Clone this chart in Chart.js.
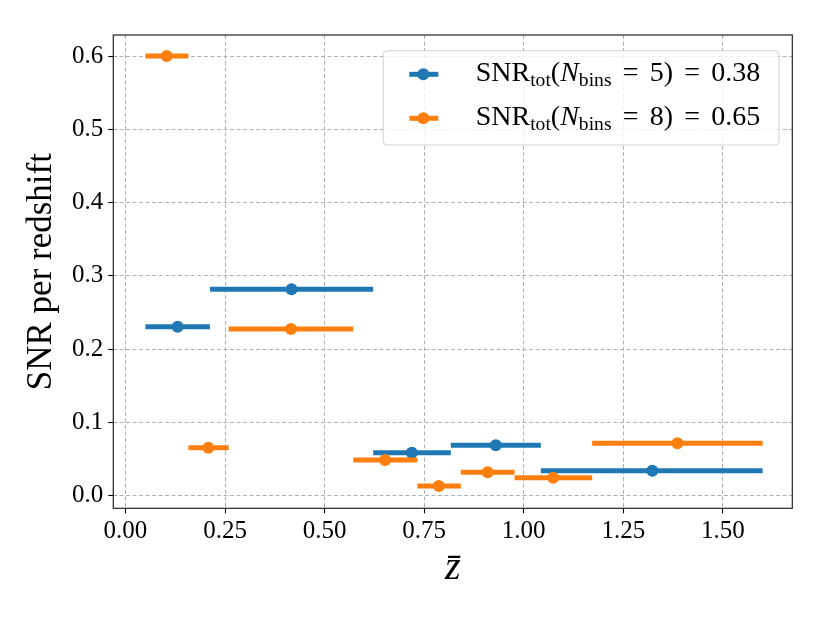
<!DOCTYPE html>
<html>
<head>
<meta charset="utf-8">
<script src="https://cdn.jsdelivr.net/npm/chart.js@4.4.1/dist/chart.umd.min.js"></script>
<style>
    html, body { margin: 0; padding: 0; background: #fff; }
    #wrap { width: 830px; height: 623px; }
</style>
</head>
<body>
<div id="wrap"><canvas id="snrChart" width="830" height="623"></canvas></div>
<script>
// N_bins = 5 (blue)
const blueEdges = [0.05, 0.212, 0.622, 0.817, 1.043, 1.60];
const blueCentres = [0.131, 0.417, 0.719, 0.930, 1.323];
const blueSnr = [0.2306, 0.2817, 0.0587, 0.0688, 0.0341];

// N_bins = 8 (orange)
const orangeEdges = [0.05, 0.158, 0.259, 0.572, 0.733, 0.842, 0.977, 1.172, 1.60];
const orangeCentres = [0.1035, 0.208, 0.4156, 0.652, 0.787, 0.9096, 1.074, 1.386];
const orangeSnr = [0.600, 0.0655, 0.2275, 0.0487, 0.0132, 0.0319, 0.0246, 0.0715];

const xTicks = [0, 0.25, 0.5, 0.75, 1.0, 1.25, 1.5];
const xTickLabels = ['0.00', '0.25', '0.50', '0.75', '1.00', '1.25', '1.50'];
const yTicks = [0, 0.1, 0.2, 0.3, 0.4, 0.5, 0.6];
const yTickLabels = ['0.0', '0.1', '0.2', '0.3', '0.4', '0.5', '0.6'];

const legendBins = [5, 8];
const legendTotals = ['0.38', '0.65'];

const BLUE = '#1f77b4';
const ORANGE = '#ff7f0e';
const FONT = '"Liberation Serif", "Times New Roman", serif';

Chart.defaults.font.family = FONT;

const datasets = [];
const addSeries = (edges, centres, snr, colour, order) => {
    snr.forEach((v, i) => {
        datasets.push({
            data: [{ x: edges[i], y: v }, { x: edges[i + 1], y: v }],
            showLine: true,
            borderColor: colour,
            borderWidth: 5,
            borderCapStyle: 'butt',
            pointRadius: 0,
            order: order + 1,
        });
    });
    datasets.push({
        data: centres.map((c, i) => ({ x: c, y: snr[i] })),
        backgroundColor: colour,
        borderWidth: 0,
        pointRadius: 6,
        order: order,
    });
};
addSeries(blueEdges, blueCentres, blueSnr, BLUE, 30);
addSeries(orangeEdges, orangeCentres, orangeSnr, ORANGE, 10);

// draws a label with TeX-like subscripts
const drawRich = (ctx, parts, x, y, size) => {
    parts.forEach((p) => {
        const s = p.sub ? size * 0.7 : size;
        ctx.font = (p.it ? 'italic ' : '') + s + 'px ' + FONT;
        ctx.fillText(p.t, x, y + (p.sub ? size * 0.17 : 0));
        x += ctx.measureText(p.t).width + (p.gap || 0) * size;
    });
};

const framePlugin = {
    id: 'frameAndLegend',
    afterDraw(chart) {
        const ctx = chart.ctx;
        const a = chart.chartArea;
        ctx.save();
        ctx.strokeStyle = '#222';
        ctx.lineWidth = 1.2;
        ctx.strokeRect(a.left, a.top, a.right - a.left, a.bottom - a.top);

        // legend box
        const x0 = a.right - 409, y0 = a.top + 15.7, w = 395.7, h = 94.3;
        ctx.beginPath();
        ctx.roundRect(x0, y0, w, h, 4);
        ctx.fillStyle = 'rgba(255,255,255,0.8)';
        ctx.fill();
        ctx.strokeStyle = '#d3d3d3';
        ctx.lineWidth = 1;
        ctx.stroke();

        const colours = [BLUE, ORANGE];
        legendBins.forEach((n, k) => {
            const ry = y0 + 23.6 + k * 44;
            ctx.strokeStyle = colours[k];
            ctx.lineWidth = 5;
            ctx.beginPath();
            ctx.moveTo(x0 + 26, ry);
            ctx.lineTo(x0 + 55, ry);
            ctx.stroke();
            ctx.fillStyle = colours[k];
            ctx.beginPath();
            ctx.arc(x0 + 40, ry, 6, 0, Math.PI * 2);
            ctx.fill();

            ctx.fillStyle = '#000';
            ctx.textBaseline = 'alphabetic';
            drawRich(ctx, [
                { t: 'SNR' }, { t: 'tot', sub: true }, { t: '(' }, { t: 'N', it: true },
                { t: 'bins', sub: true, gap: 0.4 }, { t: '=', gap: 0.4 },
                { t: n + ')', gap: 0.4 }, { t: '=', gap: 0.4 }, { t: legendTotals[k] },
            ], x0 + 92.4, ry + 7, 28);
        });
        ctx.restore();
    },
};

new Chart(document.getElementById('snrChart'), {
    type: 'scatter',
    data: { datasets },
    options: {
        responsive: false,
        animation: false,
        events: [],
        layout: { padding: { top: 35, right: 37.7, left: 0, bottom: 0 } },
        plugins: { legend: { display: false }, tooltip: { enabled: false } },
        scales: {
            x: {
                type: 'linear',
                min: -0.0306,
                max: 1.6745,
                afterBuildTicks: (s) => { s.ticks = xTicks.map((v) => ({ value: v })); },
                afterFit: (s) => { s.height = 114.7; },
                ticks: {
                    callback: (v) => xTickLabels[xTicks.indexOf(v)],
                    font: { size: 25 },
                    color: '#000',
                    padding: 3,
                    maxRotation: 0,
                    autoSkip: false,
                },
                grid: { color: '#b0b0b0', lineWidth: 1, tickColor: '#000', tickLength: 5, tickWidth: 1.1, tickBorderDash: [] },
                border: { display: false, dash: [4, 2.5] },
                title: {
                    display: true,
                    text: 'z\u0304',
                    color: '#000',
                    font: { size: 40, style: 'italic' },
                    padding: { top: 0, bottom: 31 },
                },
            },
            y: {
                type: 'linear',
                min: -0.0172,
                max: 0.6287,
                afterBuildTicks: (s) => { s.ticks = yTicks.map((v) => ({ value: v })); },
                afterFit: (s) => { s.width = 113.3; },
                ticks: {
                    callback: (v) => yTickLabels[yTicks.indexOf(v)],
                    font: { size: 25 },
                    color: '#000',
                    padding: 5,
                    autoSkip: false,
                },
                grid: { color: '#b0b0b0', lineWidth: 1, tickColor: '#000', tickLength: 5, tickWidth: 1.1, tickBorderDash: [] },
                border: { display: false, dash: [4, 2.5] },
                title: {
                    display: true,
                    text: 'SNR per redshift',
                    color: '#000',
                    font: { size: 35 },
                    padding: { top: 21, bottom: 0 },
                },
            },
        },
    },
    plugins: [framePlugin],
});
</script>
</body>
</html>
